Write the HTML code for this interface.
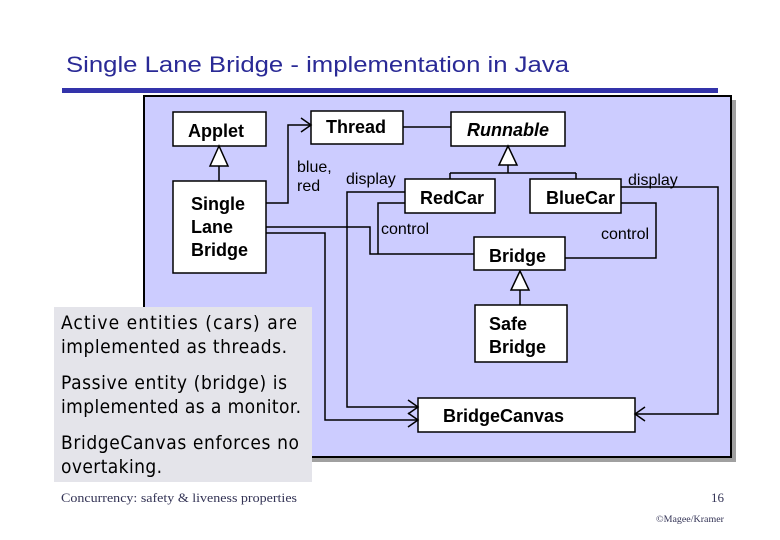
<!DOCTYPE html>
<html><head><meta charset="utf-8"><style>
html,body{margin:0;padding:0;background:#fff;}
svg{display:block;}
</style></head><body>
<svg width="780" height="540" viewBox="0 0 780 540" xmlns="http://www.w3.org/2000/svg" font-family="Liberation Sans, Arial, sans-serif">
<text x="66" y="72" font-size="22" fill="#2a2a96" textLength="503" lengthAdjust="spacingAndGlyphs">Single Lane Bridge - implementation in Java</text>
<rect x="62" y="88" width="656" height="5" fill="#3333aa"/>
<rect x="148" y="100" width="588" height="362" fill="#a0a0a0"/>
<rect x="144" y="96" width="587" height="361" fill="#ccccff" stroke="#000" stroke-width="2"/>
<g fill="#fff" stroke="#000" stroke-width="1.5">
<rect x="173" y="112" width="93" height="34"/>
<rect x="311" y="111" width="92" height="33"/>
<rect x="451" y="112" width="114" height="34"/>
<rect x="173" y="181" width="93" height="92"/>
<rect x="405" y="179" width="90" height="34"/>
<rect x="530" y="179" width="91" height="34"/>
<rect x="474" y="237" width="91" height="33"/>
<rect x="475" y="305" width="92" height="57"/>
<rect x="418" y="398" width="217" height="34"/>
</g>
<g fill="none" stroke="#000" stroke-width="1.5">
<path d="M219 166 V181"/>
<path d="M266 203 H288 V125 H311"/>
<path d="M301 118 L311 125 L301 132"/>
<path d="M403 127 H451"/>
<path d="M508 165 V173 M450 173 H576 M450 173 V179 M576 173 V179"/>
<path d="M405 192 H347 V407 H418"/>
<path d="M405 203 H378 V254"/>
<path d="M266 227 H370 V254 H474"/>
<path d="M266 233 H325 V420 H418"/>
<path d="M408 400 L418 407 L408 414"/>
<path d="M408 413 L418 420 L408 427"/>
<path d="M621 187 H718 V414 H635"/>
<path d="M645 407 L635 414 L645 421"/>
<path d="M621 203 H656 V258 H565"/>
<path d="M520 290 V305"/>
</g>
<g fill="#fff" stroke="#000" stroke-width="1.5">
<path d="M219 146 L210 166 L228 166 Z"/>
<path d="M508 146 L499 165 L517 165 Z"/>
<path d="M520 271 L511 290 L529 290 Z"/>
</g>
<g font-weight="bold" font-size="18" fill="#000">
<text x="188" y="137">Applet</text>
<text x="326" y="133">Thread</text>
<text x="467" y="136" font-style="italic">Runnable</text>
<text x="191" y="210">Single</text>
<text x="191" y="233">Lane</text>
<text x="191" y="256">Bridge</text>
<text x="420" y="204">RedCar</text>
<text x="546" y="204">BlueCar</text>
<text x="489" y="262">Bridge</text>
<text x="489" y="330">Safe</text>
<text x="489" y="353">Bridge</text>
<text x="443" y="422">BridgeCanvas</text>
</g>
<g font-size="16" fill="#000">
<text x="297" y="172">blue,</text>
<text x="297" y="191">red</text>
<text x="346" y="184">display</text>
<text x="381" y="234">control</text>
<text x="628" y="185">display</text>
<text x="601" y="239">control</text>
</g>
<rect x="54" y="307" width="258" height="175" fill="#e4e4ea"/>
<g font-size="19" fill="#000" font-family="DejaVu Sans Condensed, DejaVu Sans, sans-serif" lengthAdjust="spacingAndGlyphs">
<text x="61" y="329" textLength="236">Active entities (cars) are</text>
<text x="61" y="353" textLength="226">implemented as threads.</text>
<text x="61" y="389" textLength="226">Passive entity (bridge) is</text>
<text x="61" y="413" textLength="240">implemented as a monitor.</text>
<text x="61" y="449" textLength="238">BridgeCanvas enforces no</text>
<text x="61" y="473" textLength="101">overtaking.</text>
</g>
<text x="61" y="502" font-family="Liberation Serif, serif" font-size="13" fill="#333355" textLength="236" lengthAdjust="spacingAndGlyphs">Concurrency: safety &amp; liveness properties</text>
<text x="711" y="502" font-family="Liberation Serif, serif" font-size="13" fill="#333355">16</text>
<text x="656" y="522" font-family="Liberation Serif, serif" font-size="9" fill="#333355" textLength="68" lengthAdjust="spacingAndGlyphs">©Magee/Kramer</text>
</svg>
</body></html>
